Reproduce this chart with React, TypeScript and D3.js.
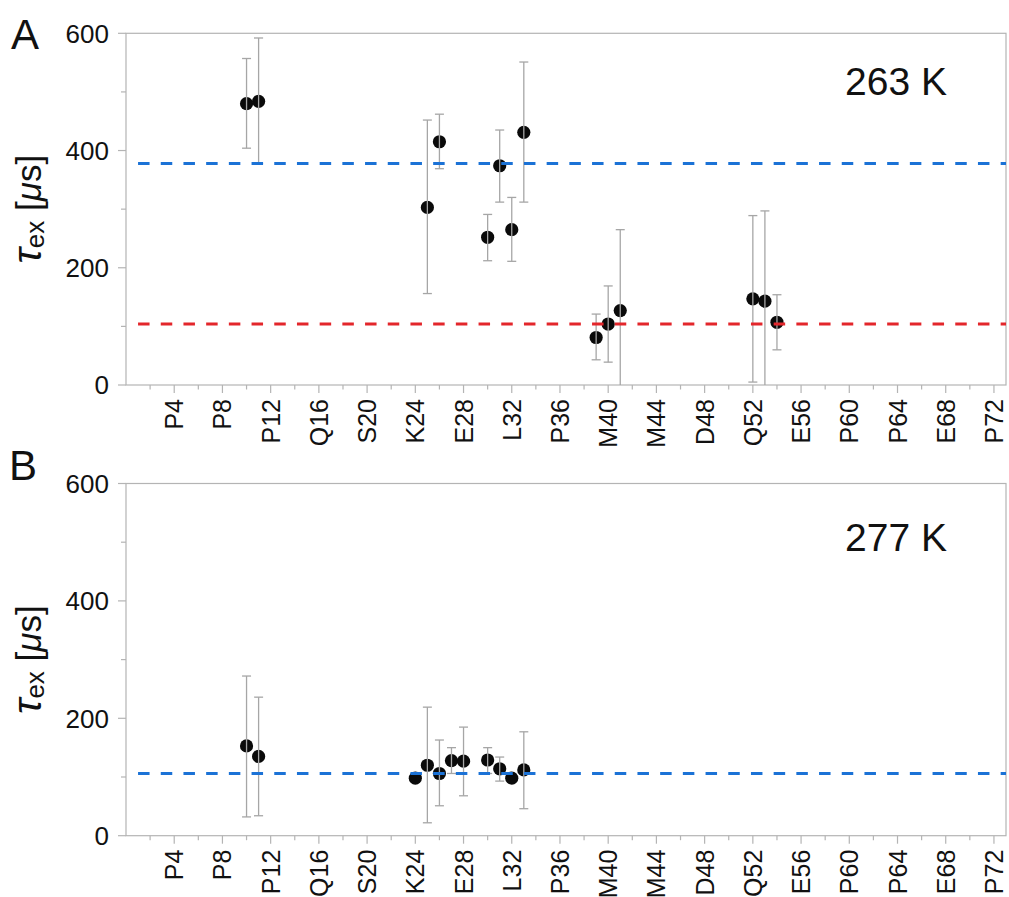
import React from "react";
import * as d3 from "d3";

// Residue axis: labelled every 4th residue, minor ticks in between
const residueTicks = [4, 8, 12, 16, 20, 24, 28, 32, 36, 40, 44, 48, 52, 56, 60, 64, 68, 72];
const residueNames = ["P4", "P8", "P12", "Q16", "S20", "K24", "E28", "L32", "P36", "M40", "M44", "D48", "Q52", "E56", "P60", "P64", "E68", "P72"];
const yMajorTicks = [0, 200, 400, 600];
const yMinorTicks = [100, 300, 500];

// Panel A — 263 K
const residuesA = [10, 11, 25, 26, 30, 31, 32, 33, 39, 40, 41, 52, 53, 54];
const tauA = [480, 484, 303, 415, 252, 374, 265, 431, 81, 104, 127, 147, 143, 107];
const lowA = [404, 378, 156, 369, 212, 312, 211, 312, 43, 39, 0, 5, 0, 60];
const highA = [557, 592, 452, 462, 291, 435, 320, 551, 121, 169, 265, 289, 297, 154];
const refBlueA = 378;
const refRedA = 104;

// Panel B — 277 K
const residuesB = [10, 11, 24, 25, 26, 27, 28, 30, 31, 32, 33];
const tauB = [153, 135, 98, 120, 106, 128, 127, 129, 114, 98, 112];
const lowB = [32, 34, null, 22, 51, 106, 68, 106, 93, null, 46];
const highB = [272, 236, null, 219, 163, 150, 185, 150, 134, null, 177];
const refBlueB = 106;

const FONT = "'Liberation Sans', Arial, Helvetica, sans-serif";
const AXIS = "#b4b4b4";
const ERR = "#a6a6a6";
const BLUE = "#1b72d6";
const RED = "#e3262b";

const X0 = 126;
const X1 = 1006;
const x = d3.scaleLinear().domain([0, 73]).range([X0, X1]);

type PanelProps = {
  letter: string;
  temp: string;
  top: number;
  bottom: number;
  tempBaseline: number;
  letterBaseline: number;
  letterX: number;
  residues: number[];
  tau: number[];
  low: (number | null)[];
  high: (number | null)[];
  refs: { value: number; color: string }[];
};

function Panel(p: PanelProps) {
  const y = d3.scaleLinear().domain([0, 600]).range([p.bottom, p.top]);
  const minorX = d3.range(2, 73, 4);
  const mid = (p.top + p.bottom) / 2;
  return (
    <g>
      {/* frame */}
      <rect x={X0} y={p.top} width={X1 - X0} height={p.bottom - p.top} fill="none" stroke={AXIS} strokeWidth={1.2} />
      {/* y ticks */}
      {yMajorTicks.map((t) => (
        <g key={"ym" + t}>
          <line x1={X0 - 8} x2={X0} y1={y(t)} y2={y(t)} stroke={AXIS} strokeWidth={1.2} />
          <text x={X0 - 17} y={y(t)} dy="0.36em" textAnchor="end" fontSize={26} fontFamily={FONT} fill="#111">
            {t}
          </text>
        </g>
      ))}
      {yMinorTicks.map((t) => (
        <line key={"yn" + t} x1={X0 - 5} x2={X0} y1={y(t)} y2={y(t)} stroke={AXIS} strokeWidth={1.2} />
      ))}
      {/* x ticks */}
      {residueTicks.map((r, i) => (
        <g key={"xm" + r}>
          <line x1={x(r)} x2={x(r)} y1={p.bottom} y2={p.bottom + 8} stroke={AXIS} strokeWidth={1.2} />
          <text
            transform={`translate(${x(r)},${p.bottom + 14}) rotate(-90)`}
            dy="0.36em"
            textAnchor="end"
            fontSize={25}
            fontFamily={FONT}
            fill="#111"
          >
            {residueNames[i]}
          </text>
        </g>
      ))}
      {minorX.map((r) => (
        <line key={"xn" + r} x1={x(r)} x2={x(r)} y1={p.bottom} y2={p.bottom + 4.5} stroke={AXIS} strokeWidth={1.2} />
      ))}
      {/* y-axis title */}
      <text transform={`translate(41,${mid}) rotate(-90)`} textAnchor="middle" fontFamily={FONT} fill="#111" fontSize={35}>
        <tspan fontStyle="italic" fontSize={41}>τ</tspan>
        <tspan fontSize={26} dy={3}>ex</tspan>
        <tspan dy={-3}> [</tspan>
        <tspan fontStyle="italic">μ</tspan>
        <tspan>s]</tspan>
      </text>
      {/* panel letter and temperature */}
      <text x={p.letterX} y={p.letterBaseline} fontSize={42} fontFamily={FONT} fill="#111">
        {p.letter}
      </text>
      <text x={845} y={p.tempBaseline} fontSize={39} fontFamily={FONT} fill="#111">
        {p.temp}
      </text>
      {/* data points */}
      {p.residues.map((r, i) => (
        <circle key={"pt" + i} cx={x(r)} cy={y(p.tau[i])} r={6.6} fill="#0a0a0a" />
      ))}
      {/* error bars */}
      {p.residues.map((r, i) => {
        const lo = p.low[i];
        const hi = p.high[i];
        if (lo == null || hi == null) return null;
        const cx = x(r);
        return (
          <g key={"eb" + i} stroke={ERR} strokeWidth={1.3}>
            <line x1={cx} x2={cx} y1={y(lo)} y2={y(hi)} />
            {lo > 0 && <line x1={cx - 4.5} x2={cx + 4.5} y1={y(lo)} y2={y(lo)} />}
            <line x1={cx - 4.5} x2={cx + 4.5} y1={y(hi)} y2={y(hi)} />
          </g>
        );
      })}
      {/* reference levels */}
      {p.refs.map((ref, i) => (
        <line
          key={"ref" + i}
          x1={x(1)}
          x2={X1}
          y1={y(ref.value)}
          y2={y(ref.value)}
          stroke={ref.color}
          strokeWidth={3}
          strokeDasharray="11.5 11.2"
        />
      ))}
    </g>
  );
}

export default function App() {
  return (
    <svg
      width={1009}
      height={897}
      viewBox="0 0 1009 897"
      style={{ position: "absolute", left: 0, top: 0, background: "#fff" }}
    >
      <rect width={1009} height={897} fill="#fff" />
      <Panel
        letter="A"
        temp="263 K"
        top={33.3}
        bottom={385}
        tempBaseline={95}
        letterBaseline={49}
        letterX={11}
        residues={residuesA}
        tau={tauA}
        low={lowA}
        high={highA}
        refs={[
          { value: refBlueA, color: BLUE },
          { value: refRedA, color: RED },
        ]}
      />
      <Panel
        letter="B"
        temp="277 K"
        top={483.5}
        bottom={835.7}
        tempBaseline={550.5}
        letterBaseline={480}
        letterX={9}
        residues={residuesB}
        tau={tauB}
        low={lowB}
        high={highB}
        refs={[{ value: refBlueB, color: BLUE }]}
      />
    </svg>
  );
}
